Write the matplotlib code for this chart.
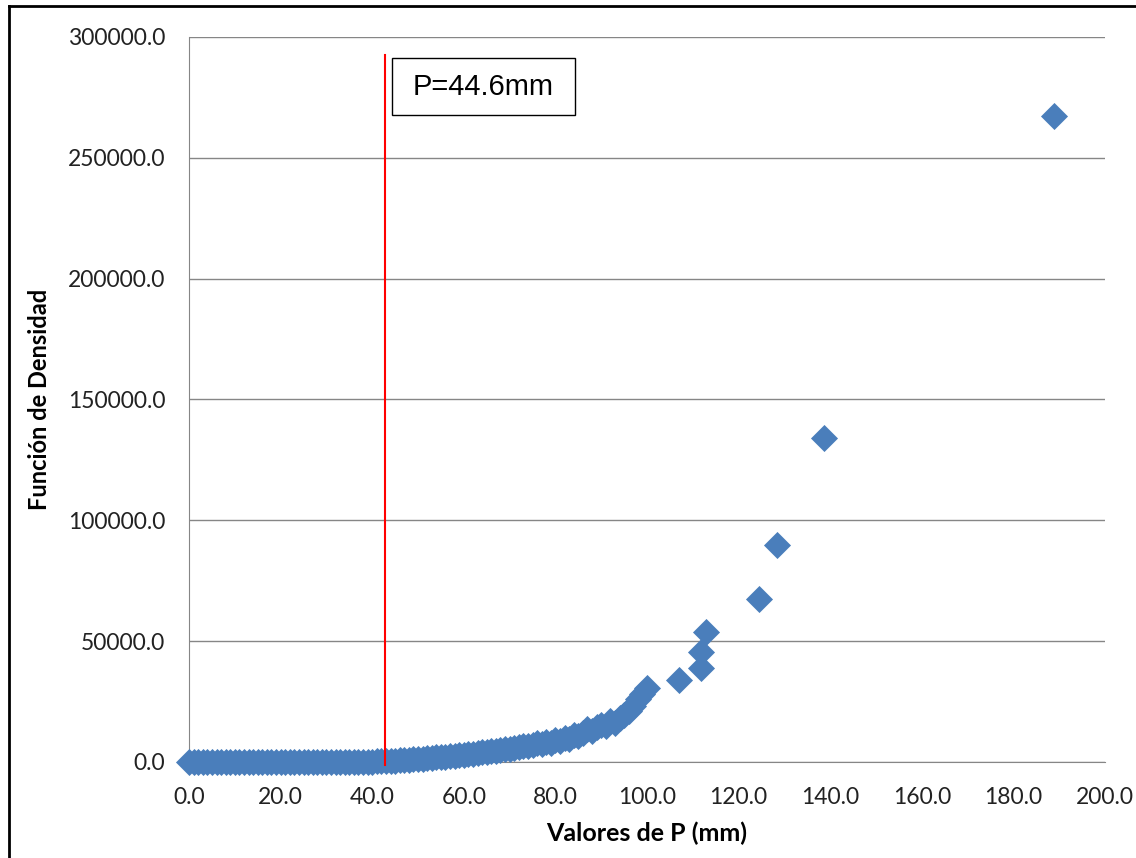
import matplotlib
matplotlib.use("Agg")
import matplotlib.pyplot as plt
from matplotlib.lines import Line2D
from matplotlib.patches import Rectangle

# dense part of the curve
p_dense = [0, 1, 2, 3, 4, 5, 6, 7, 8, 9, 10, 11, 12, 13, 14, 15, 16, 17, 18,
           19, 20, 21, 22, 23, 24, 25, 26, 27, 28, 29, 30, 31, 32, 33, 34, 35,
           36, 37, 38, 39, 40, 41, 42, 43, 44, 45, 46, 47, 48, 49, 50, 51, 52,
           53, 54, 55, 56, 57, 58, 59, 60, 61, 62, 63, 64, 65, 66, 67, 68, 69,
           70, 71, 72, 73, 74, 75, 76, 77, 78, 79, 80, 81, 82, 83, 84, 85, 86,
           87, 88, 89, 90, 91, 92, 93, 94, 95, 96, 97, 98, 99, 100]
f_dense = [0, 0, 0, 0, 0, 0, 0, 0, 0, 0, 0, 0, 0, 0, 0, 0, 0, 0, 0,
           0, 0, 0, 0, 0, 5, 8, 12, 15, 18, 25, 30, 37, 45, 55, 65, 80,
           90, 110, 130, 160, 190, 230, 270, 320, 380, 430, 700, 870, 1000,
           1130, 1270, 1400, 1570, 1730, 1900, 2070, 2250, 2450, 2650, 2850,
           3050, 3250, 3480, 3700, 3930, 4170, 4400, 4670, 4930, 5200, 5470,
           5770, 6100, 6430, 6770, 7100, 7900, 7300, 8300, 8000, 9000, 8800,
           9900, 9600, 11300, 10800, 12200, 13500, 12800, 14600, 15500, 15000,
           16800, 16300, 18000, 19500, 21000, 23000, 26000, 28000, 30500]

# isolated points in the tail
p_tail = [107.0, 111.8, 111.8, 112.9, 124.4, 128.4, 138.7, 188.8]
f_tail = [33900, 38900, 45500, 53800, 67400, 89600, 134000, 267300]

p_ref = 42.8
ref_label = "P=44.6mm"

x_ticks = [0, 20, 40, 60, 80, 100, 120, 140, 160, 180, 200]
y_ticks = [0, 50000, 100000, 150000, 200000, 250000, 300000]

blue = "#4A7EBB"
grid_c = "#868686"

fig = plt.figure(figsize=(11.36, 8.58), dpi=100)
ax = fig.add_axes([0.1664, 0.1119, 0.8063, 0.845])

ax.scatter(p_dense + p_tail, f_dense + f_tail, marker="D", s=190,
           color=blue, linewidths=0, zorder=3, clip_on=False)

ax.plot([p_ref, p_ref], [-1200, 292500], color="#FF0000", lw=1.5, zorder=4,
        clip_on=False)
# label box next to the line
ax.add_patch(Rectangle((44.3, 267700), 40.0, 23600, fc="white", ec="black",
                       lw=1, zorder=5))
ax.text(64.3, 279500, ref_label, fontsize=21, family="Liberation Sans",
        va="center", ha="center", zorder=6)

ax.set_xlim(0, 200)
ax.set_ylim(0, 300000)
ax.set_xticks(x_ticks)
ax.set_yticks(y_ticks)
ax.set_xticklabels([f"{v:.1f}" for v in x_ticks])
ax.set_yticklabels([f"{v:.1f}" for v in y_ticks])
ax.tick_params(length=0, labelsize=16.5, colors="#222222")
ax.tick_params(axis="x", pad=18)
ax.tick_params(axis="y", pad=17)
for lab in ax.get_xticklabels() + ax.get_yticklabels():
    lab.set_family("Lato")

ax.grid(axis="y", color=grid_c, lw=1)
ax.set_axisbelow(True)
for s in ["top", "right"]:
    ax.spines[s].set_visible(False)
ax.spines["left"].set_color(grid_c)
ax.spines["bottom"].set_color(grid_c)

ax.set_xlabel("Valores de P (mm)", fontsize=18, fontweight="bold",
              family="Lato", labelpad=10)
ax.set_ylabel("Función de Densidad", fontsize=17, fontweight="bold",
              family="Lato", labelpad=12)

# outer chart border (left and top edges are visible)
fig.add_artist(Line2D([0.008, 0.008], [0, 0.993], color="black", lw=2,
                      transform=fig.transFigure))
fig.add_artist(Line2D([0.008, 1.0], [0.993, 0.993], color="black", lw=2,
                      transform=fig.transFigure))

fig.savefig("out.png", dpi=100)
